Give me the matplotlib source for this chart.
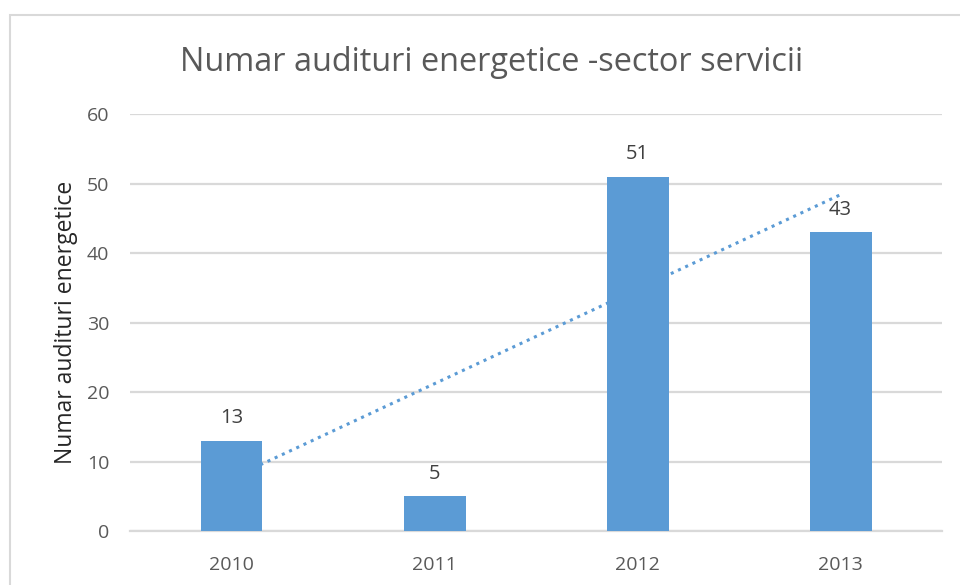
import numpy as np
import matplotlib.pyplot as plt
from matplotlib.patches import Rectangle

years = ["2010", "2011", "2012", "2013"]
audits = [13, 5, 51, 43]
y_ticks = [0, 10, 20, 30, 40, 50, 60]

title = "Numar audituri energetice -sector servicii"
y_label = "Numar audituri energetice"

bar_color = "#5B9BD5"
grid_color = "#D9D9D9"
text_color = "#595959"

plt.rcParams["font.family"] = ["Open Sans", "DejaVu Sans"]

fig = plt.figure(figsize=(9.6, 5.85), dpi=100)
ax = fig.add_axes([0.1354, 0.0923, 0.846, 0.7128])

x = np.arange(len(years))

# linear trendline, drawn behind the bars like in Excel
slope, intercept = np.polyfit(x, audits, 1)
ax.plot(x, slope * x + intercept, linestyle=(0, (1, 1.6)), color=bar_color,
        linewidth=2.2, zorder=2)

bars = ax.bar(x, audits, width=0.305, color=bar_color, zorder=3)

for bar, val in zip(bars, audits):
    ax.annotate(str(val), (bar.get_x() + bar.get_width() / 2, val),
                xytext=(0, 9), textcoords="offset points",
                ha="center", va="bottom", fontsize=14.5, color="#404040", zorder=4)

ax.set_xlim(-0.5, len(years) - 0.5)
ax.set_ylim(0, 60)
ax.set_yticks(y_ticks)
ax.set_xticks(x)
ax.set_xticklabels(years)
ax.tick_params(axis="both", length=0, labelsize=14, labelcolor=text_color)
ax.tick_params(axis="y", pad=15)
ax.tick_params(axis="x", pad=18)
ax.grid(axis="y", color=grid_color, linewidth=1.6, zorder=0)
ax.set_axisbelow(True)
for side in ["top", "right", "left"]:
    ax.spines[side].set_visible(False)
ax.spines["bottom"].set_color(grid_color)
ax.spines["bottom"].set_linewidth(1.6)

ax.set_ylabel(y_label, fontsize=16.5, color="#262626", labelpad=6)

fig.text(0.5125, 0.894, title, ha="center", va="center", fontsize=23.4,
         color=text_color)

# chart area frame
fig.patches.append(Rectangle((10 / 960, -0.05), 1.2, 1 - 15 / 585 + 0.05,
                             transform=fig.transFigure, fill=False,
                             edgecolor=grid_color, linewidth=1.5))

fig.savefig("out.png", dpi=100)
